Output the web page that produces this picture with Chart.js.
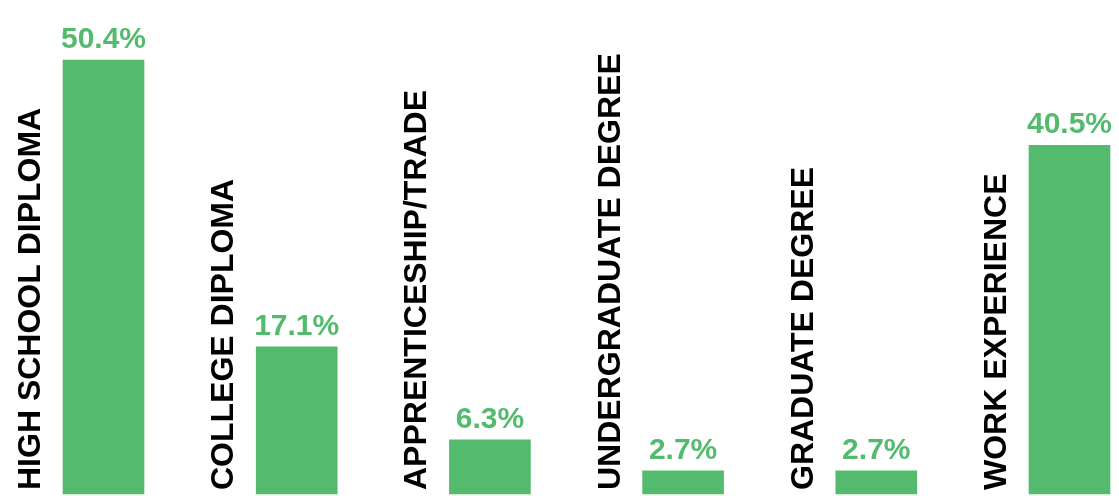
<!DOCTYPE html>
<html lang="en">
<head>
    <meta charset="UTF-8">
    <title>Education and Experience</title>
    <script src="https://cdn.jsdelivr.net/npm/chart.js@4"></script>
    <style>
        html, body {
            margin: 0;
            padding: 0;
            background-color: #ffffff;
            overflow: hidden;
        }
        .chart-container {
            position: relative;
            width: 1119px;
            height: 496px;
        }
    </style>
</head>
<body>
    <div class="chart-container">
        <canvas id="eduChart"></canvas>
    </div>

    <script>
        // Data
        const categories = [
            'HIGH SCHOOL DIPLOMA',
            'COLLEGE DIPLOMA',
            'APPRENTICESHIP/TRADE',
            'UNDERGRADUATE DEGREE',
            'GRADUATE DEGREE',
            'WORK EXPERIENCE'
        ];
        const percentages = [50.4, 17.1, 6.3, 2.7, 2.7, 40.5];

        const GREEN = '#54bb6e';

        // Draws the value above each bar and the rotated category name beside it
        const barLabels = {
            id: 'barLabels',
            afterDatasetsDraw(chart) {
                const ctx = chart.ctx;
                const meta = chart.getDatasetMeta(0);
                ctx.save();
                meta.data.forEach((bar, i) => {
                    // value
                    ctx.fillStyle = GREEN;
                    ctx.font = 'bold 30px "Liberation Sans", Arial, sans-serif';
                    ctx.textAlign = 'center';
                    ctx.textBaseline = 'alphabetic';
                    ctx.fillText(percentages[i].toFixed(1) + '%', bar.x, bar.y - 12);

                    // category, reading bottom to top
                    const left = bar.x - bar.width / 2;
                    ctx.save();
                    ctx.translate(left - 23, chart.chartArea.bottom - 4);
                    ctx.rotate(-Math.PI / 2);
                    ctx.fillStyle = '#000000';
                    ctx.font = 'bold 32px "Liberation Sans", Arial, sans-serif';
                    ctx.textAlign = 'left';
                    ctx.textBaseline = 'alphabetic';
                    ctx.fillText(categories[i], 0, 0);
                    ctx.restore();
                });
                ctx.restore();
            }
        };

        const ctx = document.getElementById('eduChart').getContext('2d');
        const chart = new Chart(ctx, {
            type: 'bar',
            data: {
                labels: categories,
                datasets: [{
                    data: percentages,
                    backgroundColor: GREEN,
                    borderWidth: 0,
                    barThickness: 81,
                    clip: false
                }]
            },
            options: {
                responsive: true,
                maintainAspectRatio: false,
                animation: false,
                layout: {
                    padding: { left: 103.5, right: 49.5, top: 12, bottom: 2 }
                },
                plugins: {
                    legend: { display: false },
                    tooltip: { enabled: false }
                },
                scales: {
                    x: {
                        display: false,
                        offset: false
                    },
                    y: {
                        display: false,
                        min: 0,
                        max: 56
                    }
                }
            },
            plugins: [barLabels]
        });
    </script>
</body>
</html>
